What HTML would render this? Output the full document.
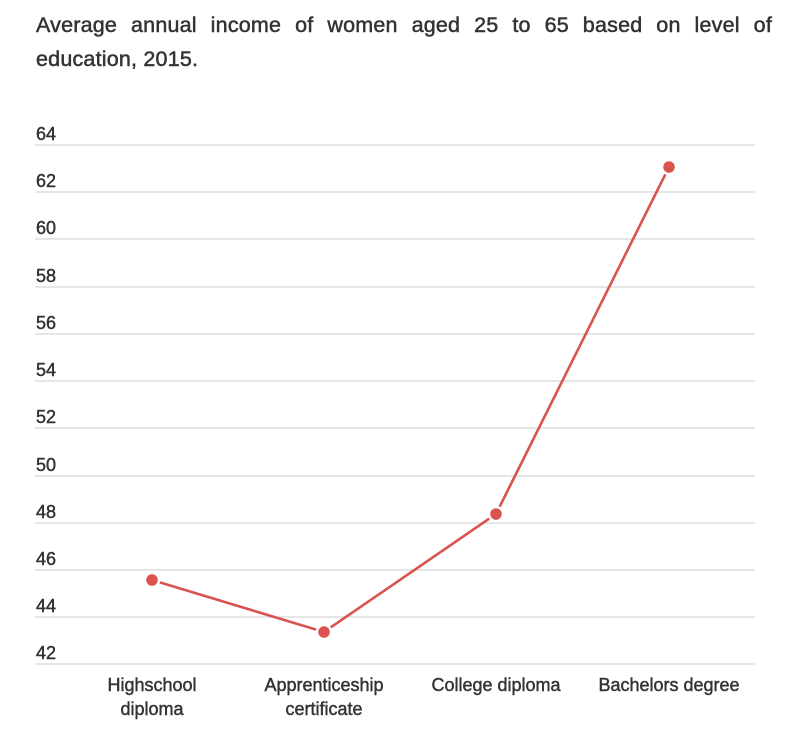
<!DOCTYPE html>
<html><head><style>
body{margin:0;background:#fff;width:809px;height:742px;overflow:hidden;font-family:"Liberation Sans",sans-serif;}
.t{position:absolute;left:36px;top:8px;width:736px;font-size:21.5px;line-height:34px;color:#333;text-align:justify;text-align-last:left;letter-spacing:0.2px;-webkit-text-stroke:0.5px #333;}
</style></head><body>
<div class="t">Average annual income of women aged 25 to 65 based on level of education, 2015.</div>
<svg width="809" height="742" style="position:absolute;left:0;top:0" font-family="Liberation Sans, sans-serif">
<g stroke="#d6d6d6" stroke-width="1.3">
<line x1="35" x2="755" y1="145" y2="145"/><line x1="35" x2="755" y1="192" y2="192"/>
<line x1="35" x2="755" y1="239" y2="239"/><line x1="35" x2="755" y1="287" y2="287"/>
<line x1="35" x2="755" y1="334" y2="334"/><line x1="35" x2="755" y1="381" y2="381"/>
<line x1="35" x2="755" y1="428" y2="428"/><line x1="35" x2="755" y1="476" y2="476"/>
<line x1="35" x2="755" y1="523" y2="523"/><line x1="35" x2="755" y1="570" y2="570"/>
<line x1="35" x2="755" y1="617" y2="617"/><line x1="35" x2="755" y1="664" y2="664"/>
</g>
<g fill="#333" stroke="#333" stroke-width="0.45" font-size="18">
<text x="36" y="140">64</text><text x="36" y="187">62</text><text x="36" y="234">60</text>
<text x="36" y="282">58</text><text x="36" y="329">56</text><text x="36" y="376">54</text>
<text x="36" y="423">52</text><text x="36" y="471">50</text><text x="36" y="518">48</text>
<text x="36" y="565">46</text><text x="36" y="612">44</text><text x="36" y="659">42</text>
</g>
<polyline points="152,580 324,632 496,514 669,167" fill="none" stroke="#d9534f" stroke-width="2.6"/>
<g fill="#d9534f" stroke="#fff" stroke-width="2.5">
<circle cx="152" cy="580" r="7"/><circle cx="324" cy="632" r="7"/><circle cx="496" cy="514" r="7"/><circle cx="669" cy="167" r="7"/>
</g>
<g fill="#333" stroke="#333" stroke-width="0.45" font-size="18" text-anchor="middle">
<text x="152" y="691">Highschool</text><text x="152" y="715">diploma</text>
<text x="324" y="691">Apprenticeship</text><text x="324" y="715">certificate</text>
<text x="496" y="691">College diploma</text>
<text x="669" y="691">Bachelors degree</text>
</g>
</svg>
</body></html>
